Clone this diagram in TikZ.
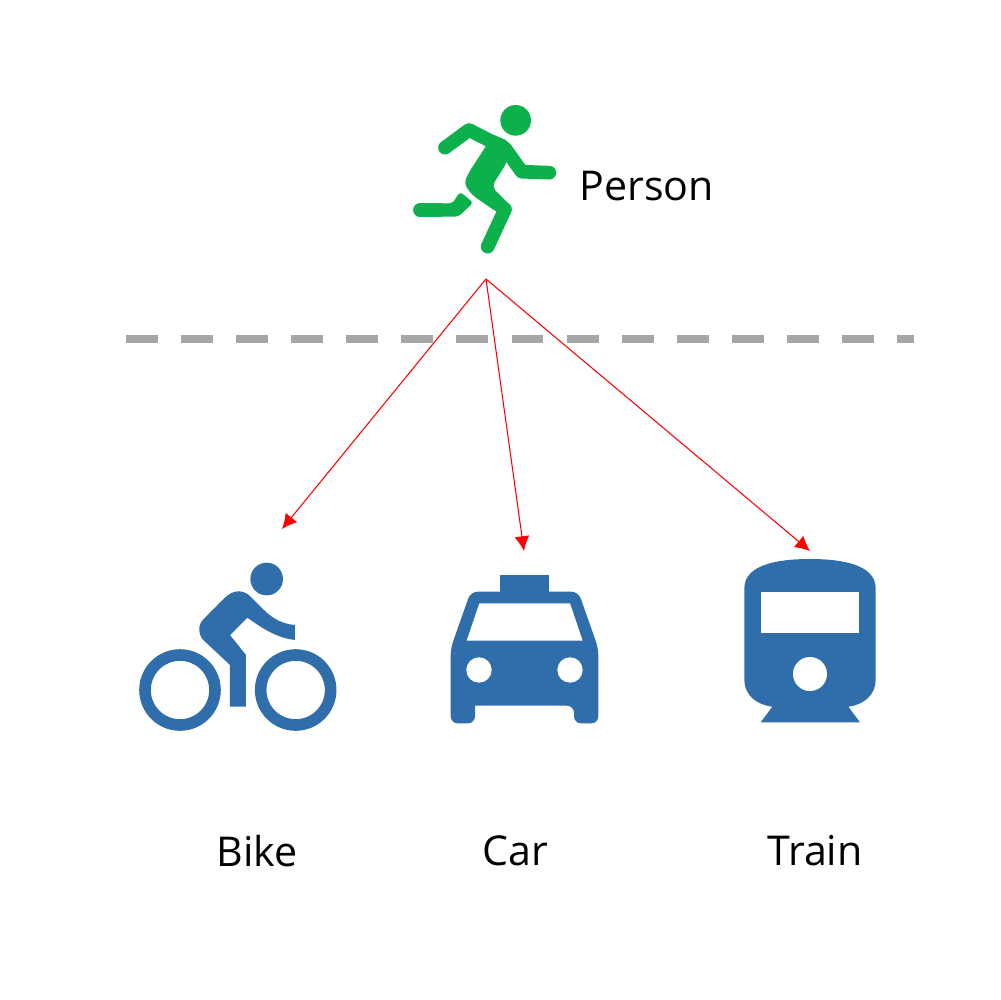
\documentclass[tikz,border=0pt]{standalone}
\usepackage{fontspec}
\setmainfont{Open Sans}
\usetikzlibrary{arrows.meta}
\definecolor{runner}{HTML}{0DB14B}
\definecolor{vehicle}{HTML}{2F6EAA}
\definecolor{divider}{HTML}{A6A6A6}

\begin{document}
\begin{tikzpicture}[
  x=0.1mm, y=-0.1mm,
  font=\fontsize{11.7pt}{13pt}\selectfont,
  label/.style={inner sep=0pt, text=black},
  arrow/.style={-{Latex[length=4.2pt,width=4.2pt]}, red, line width=0.3pt},
  limb/.style={runner, line width=3.9pt, line cap=round, line join=round},
  solid/.style={fill=vehicle, draw=none},
  hole/.style={fill=white, draw=none},
  wheel/.style={draw=vehicle, line width=3.3pt}
]
\useasboundingbox (0,0) rectangle (1000,1000);

% Divider
\coordinate (divleft) at (126,339);
\coordinate (divright) at (914,339);
\draw[divider, line width=2.2pt, dash pattern=on 9.1pt off 6.57pt] (divleft) -- (divright);

% Runner
\begin{scope}[shift={(390,90)}, scale=1/3]
  \fill[runner] (377,91) circle (46);
  \fill[runner, rounded corners=1pt] (210,305) -- (250,338) -- (205,380) -- (90,380) -- (90,340) -- (188,340) -- cycle;
  \draw[limb] (90,360) -- (150,360);
  \draw[limb] (165,173) -- (237,120) -- (345,175) -- (395,245) -- (478,248);
  \fill[runner, rounded corners=1.5pt] (360,155) -- (352,215) -- (305,290) -- (365,350) -- (360,378) -- (320,366) -- (245,314) -- (222,280) -- (235,250) -- (290,165) -- (300,130) -- cycle;
  \draw[limb] (345,358) -- (293,470);
\end{scope}

% Bike
\begin{scope}[shift={(120,550)}, scale=1/3]
  \fill[vehicle] (440,87) circle (49);
  \draw[wheel] (180,420) circle (105);
  \draw[wheel] (527,420) circle (105);
  \path[solid] (238,240) .. controls (236,225) and (245,212) .. (255,203) -- (315,143) .. controls (340,118) and (370,118) .. (392,140) -- (432,180) .. controls (460,208) and (490,222) .. (525,225) -- (525,270) .. controls (480,265) and (440,245) .. (382,203) -- (330,255) -- (378,315) -- (378,470) -- (330,470) -- (330,345) -- (250,270) .. controls (242,262) and (238,250) .. (238,240) -- cycle;
\end{scope}

% Car
\begin{scope}[shift={(430,560)}, scale=1/3]
  \path[solid] (210,45) rectangle (357,100);
  \path[solid, rounded corners=2pt] (62,265) -- (122,95) -- (445,95) -- (505,265) -- (505,490) -- (432,490) -- (432,437) [sharp corners] -- (135,437) [rounded corners=2pt] -- (135,490) -- (62,490) -- cycle;
  \path[hole] (148,130) -- (420,130) -- (458,242) -- (110,242) -- cycle;
  \path[hole] (147,330) circle (38);
  \path[hole] (420,330) circle (38);
\end{scope}

% Train
\begin{scope}[shift={(730,545)}, scale=1/3]
  \path[solid] (43,130) .. controls (43,60) and (140,42) .. (240,42) .. controls (340,42) and (437,60) .. (437,130) -- (437,405) .. controls (437,450) and (400,480) .. (355,485) -- (390,532) -- (92,532) -- (127,485) .. controls (80,480) and (43,450) .. (43,405) -- cycle;
  \path[hole] (92,140) rectangle (388,264);
  \path[hole] (240,387) circle (51);
\end{scope}

% Labels
\node[label, anchor=west] (person) at (579,186) {Person};
\node[label] (bike) at (257,851) {Bike};
\node[label] (car) at (515,851) {Car};
\node[label] (train) at (815,851) {Train};

% Arrows
\coordinate (apex) at (486,279);
\coordinate (biketip) at (282,529);
\coordinate (cartip) at (524,551);
\coordinate (traintip) at (810,551);
\draw[arrow] (apex) -- (biketip);
\draw[arrow] (apex) -- (cartip);
\draw[arrow] (apex) -- (traintip);

\end{tikzpicture}
\end{document}
